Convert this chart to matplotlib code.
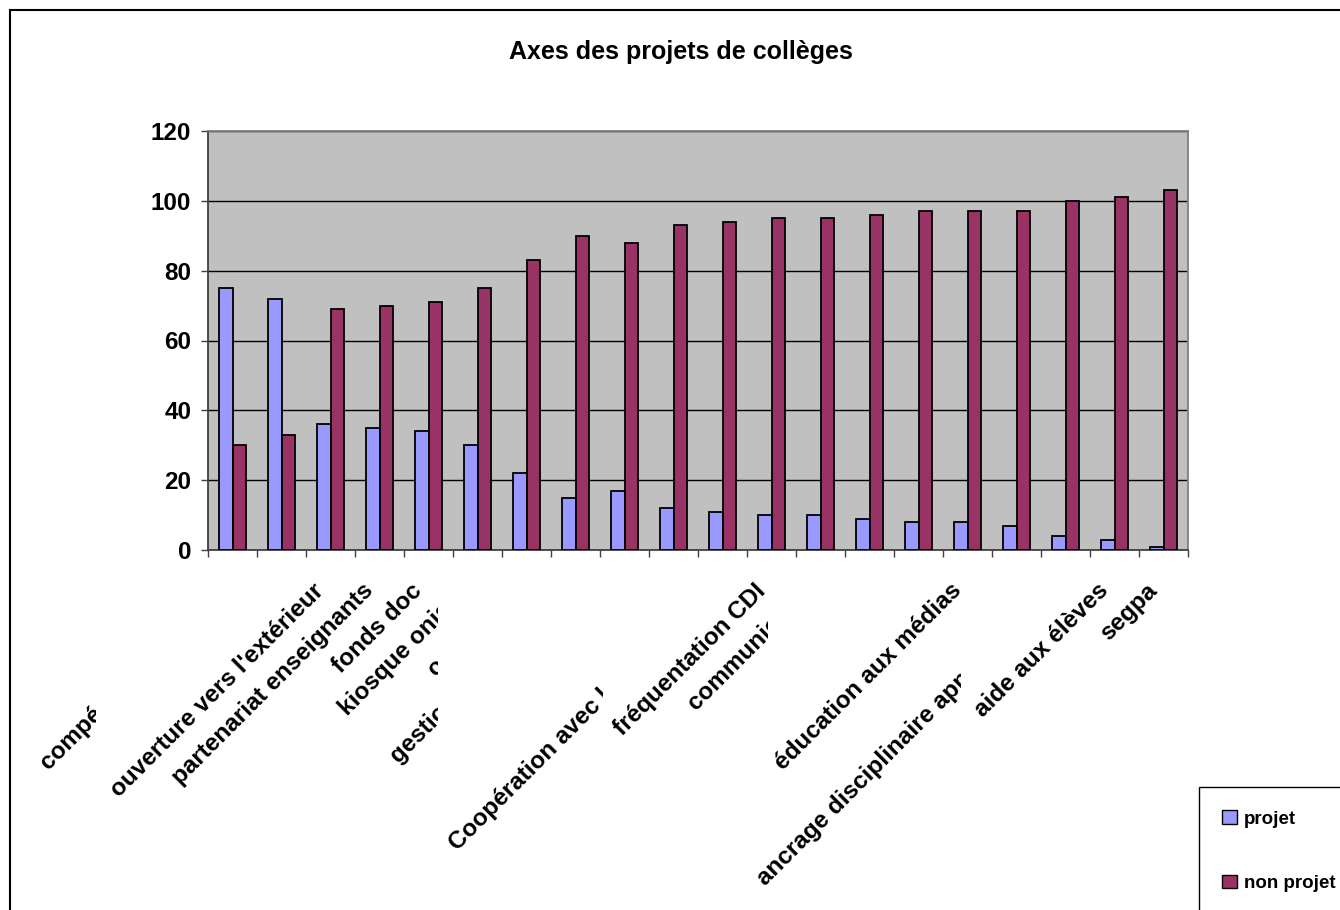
import numpy as np
import matplotlib
matplotlib.use('Agg')
import matplotlib.pyplot as plt
from matplotlib.patches import Patch, Rectangle
from matplotlib.transforms import Bbox, IdentityTransform

plt.rcParams['font.family'] = ['Liberation Sans', 'DejaVu Sans']
plt.rcParams['font.weight'] = 'bold'

# visible (Excel-truncated) category labels, '' where nothing is drawn
labels = [
    "compé", "", "ouverture vers l'extérieur", "partenariat enseignants",
    "fonds doc", "kiosque onis", "ori", "gestio", "", "",
    "Coopération avec l", "fréquentation CDI", "communic", "", "",
    "éducation aux médias", "", "ancrage disciplinaire app", "aide aux élèves", "segpa",
]
projet = [75, 72, 36, 35, 34, 30, 22, 15, 17, 12, 11, 10, 10, 9, 8, 8, 7, 4, 3, 1]
non_projet = [30, 33, 69, 70, 71, 75, 83, 90, 88, 93, 94, 95, 95, 96, 97, 97, 97, 100, 101, 103]
series_names = ['projet', 'non projet']
colors = ['#9999FF', '#993366']

# labels cut off by a vertical edge in the original: (pixel x of text start, pixel x of the cut)
label_cut = {0: (38, 96), 5: (337, 438), 6: (425, 438), 7: (388, 438),
             10: (447, 603), 12: (685, 768), 17: (755, 961)}

W, H = 1340, 910
fig = plt.figure(figsize=(W / 100, H / 100), dpi=100)
ax = fig.add_axes([208 / W, 1 - 550 / H, 980 / W, 419 / H])
ax.set_facecolor('#C0C0C0')

x = np.arange(len(projet))
bw = 0.275
ax.bar(x - bw / 2, projet, bw, color=colors[0], edgecolor='black', linewidth=1.3, zorder=3)
ax.bar(x + bw / 2, non_projet, bw, color=colors[1], edgecolor='black', linewidth=1.3, zorder=3)

ax.set_xlim(-0.5, len(projet) - 0.5)
ax.set_ylim(0, 120)
ax.set_yticks(np.arange(0, 121, 20))
ax.set_xticks(np.arange(-0.5, len(projet), 1))
ax.set_xticklabels([])
ax.tick_params(axis='y', direction='out', length=5, width=1, color='#404040',
               labelsize=17.5, pad=7)
ax.tick_params(axis='x', direction='out', length=5, width=1, color='#404040')
for lab in ax.get_yticklabels():
    lab.set_fontweight('bold')
ax.yaxis.grid(True, color='black', linewidth=1.0, zorder=1)
ax.set_axisbelow(True)
ax.spines['left'].set_color('#404040')
ax.spines['bottom'].set_color('#404040')
ax.spines['top'].set_color('#808080')
ax.spines['right'].set_color('#808080')
for sp in ax.spines.values():
    sp.set_linewidth(1.3)

fig.text(681 / W, 1 - 52 / H, 'Axes des projets de collèges', ha='center', va='center',
         fontsize=18, fontweight='bold')

# rotated category labels, drawn like the Excel export (some cut off)
for i, txt in enumerate(labels):
    if not txt:
        continue
    cx, y0 = ax.transData.transform((i, 0))
    ex, ey = cx - 18, y0 - 29   # top-right anchor of a full label
    if i in label_cut:
        start, cut = label_cut[i]
        tx = start - 2
        ty = tx - (ex - ey)      # slide along the same 45 degree line
        t = fig.text(tx, ty, txt, transform=IdentityTransform(), rotation=45,
                     rotation_mode='anchor', ha='left', va='top',
                     fontsize=17.5, fontweight='bold')
        t.set_clip_box(Bbox.from_extents(0, 0, cut, H))
        t.set_clip_on(True)
    else:
        fig.text(ex, ey, txt, transform=IdentityTransform(), rotation=45,
                 rotation_mode='anchor', ha='right', va='top',
                 fontsize=17.5, fontweight='bold')

# outer chart border (right/bottom edges fall outside the image)
fig.add_artist(Rectangle((10, -50), 2000, H - 10 + 50, transform=IdentityTransform(),
                         fill=False, edgecolor='black', linewidth=1.5))

handles = [Patch(facecolor=c, edgecolor='black', linewidth=1.0) for c in colors]
leg = fig.legend(handles, series_names, loc='upper left',
                 bbox_to_anchor=(1199 / W, 1 - 787 / H), borderaxespad=0,
                 frameon=True, fancybox=False, edgecolor='black', framealpha=1,
                 prop={'size': 13.5, 'weight': 'bold'}, borderpad=1.25,
                 labelspacing=2.5, handlelength=0.75, handleheight=0.75,
                 handletextpad=0.4)
leg.get_frame().set_linewidth(1.0)

fig.savefig('out.png', dpi=100)
